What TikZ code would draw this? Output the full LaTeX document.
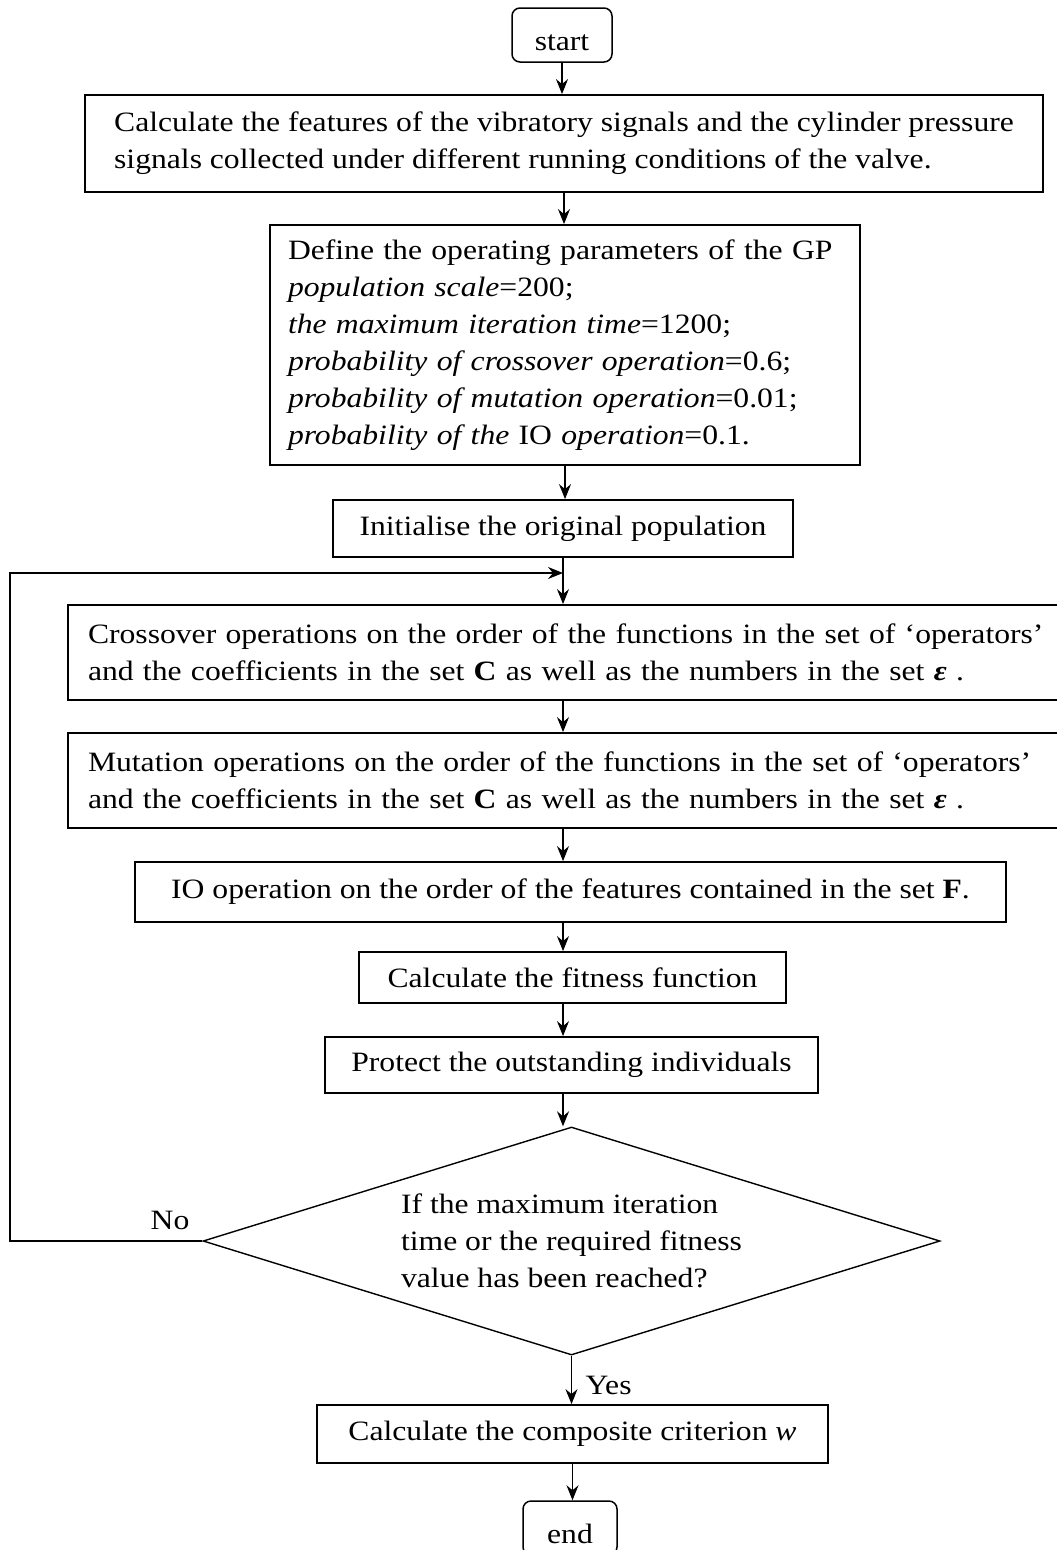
\documentclass[tikz,border=0pt]{standalone}
\usepackage{fontspec}
\setmainfont{Liberation Serif}[FakeStretch=1.13]
\usetikzlibrary{arrows.meta}
\usetikzlibrary{shapes.geometric}

\begin{document}
\begin{tikzpicture}[%
  >={Stealth[length=15pt,width=12pt,inset=5pt]},
  x=1pt, y=-1pt,
  every node/.style={font=\fontsize{28}{37}\selectfont},
  box/.style={draw, line width=1.8pt, inner sep=0pt},
  endbox/.style={box, line width=1.5pt, rounded corners=8pt, text height=31pt, text depth=0pt},
  flow/.style={->, line width=1.2pt},
]

  \useasboundingbox (0,0) rectangle (1057,1550);

  \node[endbox, minimum width=100, minimum height=54] (start) at (562,35) {start};

  \node[box, minimum width=958, minimum height=97, align=left] (feat) at (564,143.5)
    {Calculate the features of the vibratory signals and the cylinder pressure\\
     signals collected under different running conditions of the valve.};

  \node[box, text width=554, inner xsep=18, minimum height=240, align=left] (param) at (565,345)
    {Define the operating parameters of the GP\\
     \textit{population scale}=200;\\
     \textit{the maximum iteration time}=1200;\\
     \textit{probability of crossover operation}=0.6;\\
     \textit{probability of mutation operation}=0.01;\\
     \textit{probability of the} IO \textit{operation}=0.1.};

  \node[box, minimum width=460, minimum height=57] (init) at (563,528.5)
    {Initialise the original population};

  \node[box, text width=1020, inner xsep=20, minimum height=95, align=left] (cross) at (598,652.5)
    {Crossover operations on the order of the functions in the set of ‘operators’\\
     and the coefficients in the set \textbf{C} as well as the numbers in the set \textbf{\textit{ε}} .};

  \node[box, text width=1020, inner xsep=20, minimum height=95, align=left] (mut) at (598,780.5)
    {Mutation operations on the order of the functions in the set of ‘operators’\\
     and the coefficients in the set \textbf{C} as well as the numbers in the set \textbf{\textit{ε}} .};

  \node[box, minimum width=871, minimum height=60] (io) at (570.5,892)
    {IO operation on the order of the features contained in the set \textbf{F}.};

  \node[box, minimum width=427, minimum height=51] (fit) at (572.5,977.5)
    {Calculate the fitness function};

  \node[box, minimum width=493, minimum height=56] (prot) at (571.5,1065)
    {Protect the outstanding individuals};

  \node[diamond, draw, line width=1.4pt, aspect=3.2, minimum width=737, minimum height=228,
        inner sep=0pt, align=left] (test) at (571.5,1241)
    {If the maximum iteration\\
     time or the required fitness\\
     value has been reached?};

  \node[box, minimum width=511, minimum height=58] (comp) at (572.5,1434)
    {Calculate the composite criterion \textit{w}};

  \node[endbox, minimum width=94, minimum height=54] (end) at (570,1528) {end};

  \node (no) at (170,1220) {No};
  \node[anchor=west] (yes) at (582,1385) {Yes};

  \coordinate (back) at (10,573);

  \draw[flow] (start.south) -- (start.south |- feat.north);
  \draw[flow] (feat.south) -- (feat.south |- param.north);
  \draw[flow] (param.south) -- (param.south |- init.north);
  \draw[flow] (init.south) -- (init.south |- cross.north);
  \draw[flow] (cross.south -| init.south) -- (init.south |- mut.north);
  \draw[flow] (mut.south -| init.south) -- (init.south |- io.north);
  \draw[flow] (io.south -| init.south) -- (init.south |- fit.north);
  \draw[flow] (fit.south -| init.south) -- (init.south |- prot.north);
  \draw[flow] (prot.south -| init.south) -- (init.south |- test.north);
  \draw[flow] (test.south) -- (test.south |- comp.north);
  \draw[flow] (comp.south) -- (comp.south |- end.north);
  \draw[flow] (test.west) -- (test.west -| back) -- (back) -- (back -| init.south);

\end{tikzpicture}
\end{document}
